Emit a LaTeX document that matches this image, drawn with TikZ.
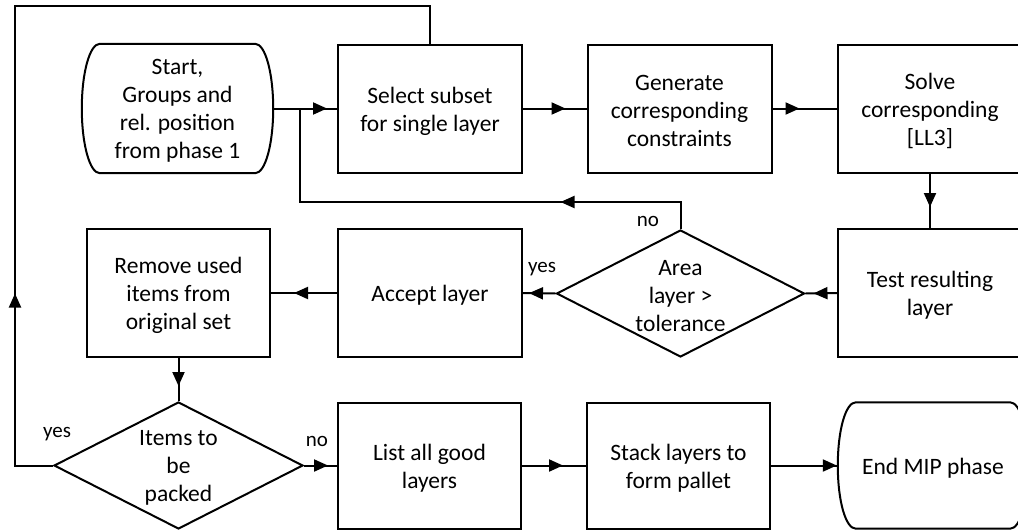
\documentclass[tikz,border=0pt]{standalone}
\usepackage{fontspec}
\setmainfont{Carlito}
\usetikzlibrary{shapes.geometric,arrows.meta,decorations.markings}

% outline of a terminal node: straight top and bottom, bulging sides
\newcommand\termoutline[1]{%
  \draw[flow] ([xshift=18pt]#1.north west) -- ([xshift=-18pt]#1.north east)
    .. controls ([xshift=-8pt]#1.north east) and ([yshift=36pt]#1.east) .. (#1.east)
    .. controls ([yshift=-36pt]#1.east) and ([xshift=-8pt]#1.south east) .. ([xshift=-18pt]#1.south east)
    -- ([xshift=18pt]#1.south west)
    .. controls ([xshift=8pt]#1.south west) and ([yshift=-36pt]#1.west) .. (#1.west)
    .. controls ([yshift=36pt]#1.west) and ([xshift=8pt]#1.north west) .. cycle;}

\tikzset{
  flow/.style={line width=2pt, line join=miter},
  txt/.style={font=\fontsize{23.5}{28}\selectfont, align=center, inner sep=0pt},
  boxtext/.style={label={[txt, yshift=-2.5pt]center:#1}},
  procbox/.style={draw, flow, rectangle, minimum width=184pt, minimum height=128pt},
  termbox/.style={rectangle, minimum width=191pt, minimum height=129pt},
  decision/.style={flow, draw, diamond, inner sep=0pt, minimum width=248pt, minimum height=127pt},
  lbl/.style={font=\fontsize{21}{25}\selectfont, inner sep=0pt},
  arrowat/.style={flow, postaction={decorate, decoration={markings,
      mark=at position #1 with {\arrow{Triangle[length=14pt,width=12pt]}}}}},
}

\begin{document}
\begin{tikzpicture}[x=1pt, y=-1pt]
  \useasboundingbox (0,0) rectangle (1018,531);
  \clip (0,0) rectangle (1018,531);

  % first row
  \node[termbox, boxtext={Start,\\Groups and\\rel. position\\from phase 1}] (start) at (177.5,108.5) {};
  \termoutline{start}
  \node[procbox, boxtext={Select subset\\for single layer}] (select) at (430,108.5) {};
  \node[procbox, boxtext={Generate\\corresponding\\constraints}] (generate) at (679.5,108.5) {};
  \node[procbox, boxtext={Solve\\corresponding\\{[LL3]}}] (solve) at (930,108.5) {};

  % second row
  \node[procbox, boxtext={Test resulting\\layer}] (test) at (930,293) {};
  \node[decision, boxtext={Area\\layer >\\tolerance}] (area) at (680.5,293.5) {};
  \node[procbox, boxtext={Accept layer}] (accept) at (430,293) {};
  \node[procbox, minimum width=183pt, boxtext={Remove used\\items from\\original set}] (remove) at (178.5,293) {};

  % third row
  \node[decision, minimum width=249pt, boxtext={Items to\\be\\packed}] (items) at (178.5,465.5) {};
  \node[procbox, minimum width=183pt, minimum height=126pt, boxtext={List all good\\layers}] (list) at (429.5,465.5) {};
  \node[procbox, minimum width=183pt, minimum height=126pt, boxtext={Stack layers to\\form pallet}] (stack) at (678.5,465.5) {};
  \node[termbox, minimum width=190pt, minimum height=126pt, boxtext={End MIP phase}] (finish) at (933,465.5) {};
  \termoutline{finish}

  % helper points for the feedback lines
  \coordinate (join) at (300,108.5);
  \coordinate (back) at (300,202);
  \coordinate (loop) at (15,6);

  % connectors
  \draw[arrowat=-10pt] (start.east) -- (select.west);
  \draw[arrowat=-21pt] (select.east) -- (generate.west);
  \draw[arrowat=27pt] (generate.east) -- (solve.west);
  \draw[arrowat=-21pt] (solve.south) -- (test.north);
  \draw[arrowat=-8pt] (test.west) -- (area.east);
  \draw[arrowat=-6pt] (area.west) -- (accept.east);
  \draw[arrowat=-23pt] (accept.west) -- (remove.east);
  \draw[arrowat=-15pt] (remove.south) -- (items.north);
  \draw[arrowat=-9pt] (items.east) -- (list.west);
  \draw[arrowat=-23pt] (list.east) -- (stack.west);
  \draw[arrowat=-1pt] (stack.east) -- (finish.west);
  \draw[arrowat=147pt] (area.north) |- (back) -- (join);
  \draw[arrowat=210pt] (items.west) -| (loop) -| (select.north);

  % branch labels
  \node[lbl] (noA) at (648,221) {no};
  \node[lbl] (yesA) at (542,269) {yes};
  \node[lbl] (yesB) at (57,434) {yes};
  \node[lbl] (noB) at (317,441) {no};
\end{tikzpicture}
\end{document}
